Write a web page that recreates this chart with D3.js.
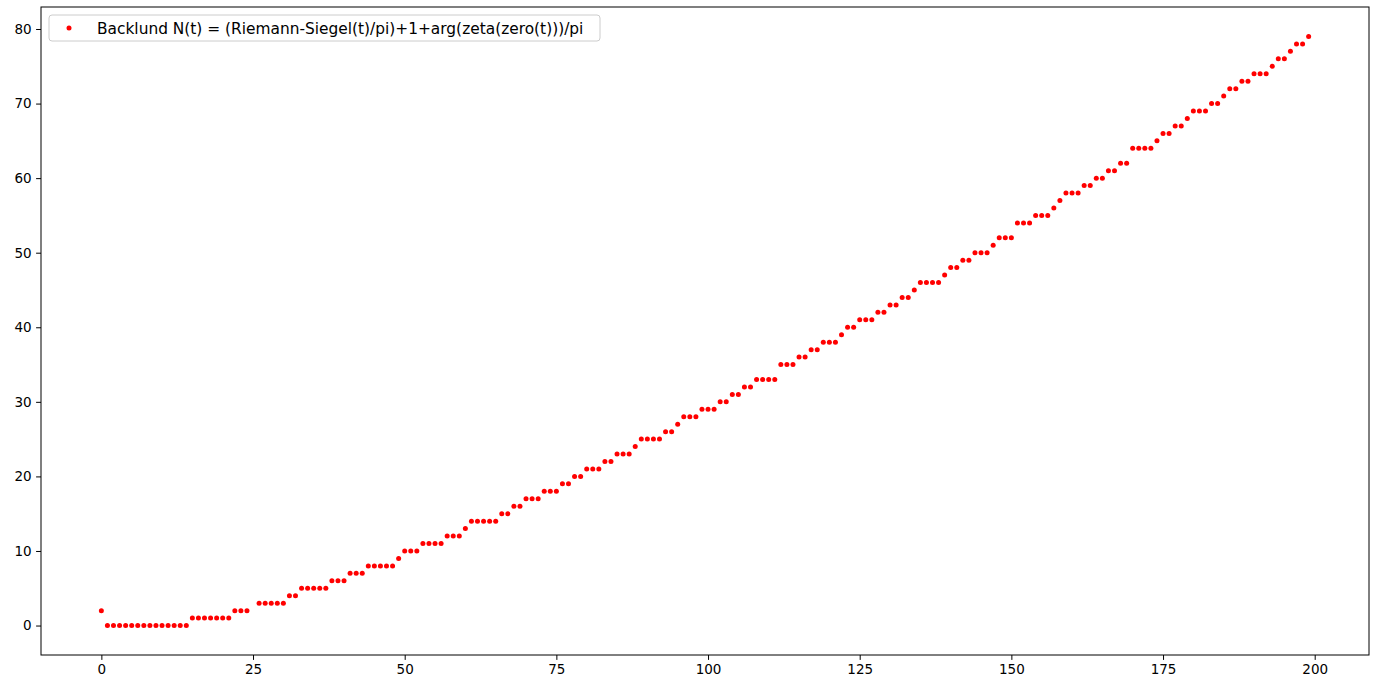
<!DOCTYPE html>
<html>
<head>
<meta charset="utf-8">
<script src="https://cdn.jsdelivr.net/npm/d3@7"></script>
<style>
  html, body { margin: 0; padding: 0; background: #fff; }
  svg { display: block; }
  text { font-family: "DejaVu Sans", sans-serif; fill: #000; }
</style>
</head>
<body>
<svg id="chart" width="1381" height="688"></svg>
<script>
// Backlund zero count N(t), sampled at t = 0, 1, 2, ..., 199
// (null where the evaluation gave no value)
const countValues = [
  2,
  0,0,0,0,0,0,0,0,0,0,0,0,0,0,
  1,1,1,1,1,1,1,
  2,2,2,null,
  3,3,3,3,3,
  4,4,
  5,5,5,5,5,
  6,6,6,
  7,7,7,
  8,8,8,8,8,
  9,
  10,10,10,
  11,11,11,11,
  12,12,12,
  13,
  14,14,14,14,14,
  15,15,
  16,16,
  17,17,17,
  18,18,18,
  19,19,
  20,20,
  21,21,21,
  22,22,
  23,23,23,
  24,
  25,25,25,25,
  26,26,
  27,
  28,28,28,
  29,29,29,
  30,30,
  31,31,
  32,32,
  33,33,33,33,
  35,35,35,
  36,36,
  37,37,
  38,38,38,
  39,
  40,40,
  41,41,41,
  42,42,
  43,43,
  44,44,
  45,
  46,46,46,46,
  47,
  48,48,
  49,49,
  50,50,50,
  51,
  52,52,52,
  54,54,54,
  55,55,55,
  56,
  57,
  58,58,58,
  59,59,
  60,60,
  61,61,
  62,62,
  64,64,64,64,
  65,
  66,66,
  67,67,
  68,
  69,69,69,
  70,70,
  71,
  72,72,
  73,73,
  74,74,74,
  75,
  76,76,
  77,
  78,78,
  79
];

const xTicks = [0, 25, 50, 75, 100, 125, 150, 175, 200];
const yTicks = [0, 10, 20, 30, 40, 50, 60, 70, 80];
const legendLabel = "Backlund N(t) = (Riemann-Siegel(t)/pi)+1+arg(zeta(zero(t)))/pi";

const points = countValues
  .map((n, t) => ({ t, n }))
  .filter(d => d.n !== null);

const svg = d3.select("#chart");
const plot = { left: 41, right: 1369, top: 7, bottom: 655 };

// data limits padded by 5% on each side, like the usual autoscale margins
const tMin = 0, tMax = countValues.length - 1;
const nMin = d3.min(points, d => d.n), nMax = d3.max(points, d => d.n);
const tPad = (tMax - tMin) * 0.05, nPad = (nMax - nMin) * 0.05;

const x = d3.scaleLinear()
  .domain([tMin - tPad, tMax + tPad])
  .range([plot.left, plot.right]);
const y = d3.scaleLinear()
  .domain([nMin - nPad, nMax + nPad])
  .range([plot.bottom, plot.top]);

// scatter points
svg.append("g")
  .selectAll("circle")
  .data(points)
  .join("circle")
  .attr("cx", d => x(d.t))
  .attr("cy", d => y(d.n))
  .attr("r", 2.5)
  .attr("fill", "#ff0000");

// axes
const xAxis = d3.axisBottom(x).tickValues(xTicks).tickSize(4.9).tickPadding(4.5).tickFormat(d3.format("d"));
const yAxis = d3.axisLeft(y).tickValues(yTicks).tickSize(4.9).tickPadding(4.5).tickFormat(d3.format("d"));

const gx = svg.append("g").attr("transform", `translate(0,${plot.bottom})`).call(xAxis);
const gy = svg.append("g").attr("transform", `translate(${plot.left},0)`).call(yAxis);
[gx, gy].forEach(g => {
  g.select(".domain").remove();
  g.selectAll(".tick line").attr("stroke", "#000").attr("stroke-width", 1);
  g.selectAll(".tick text").attr("font-size", 13.5).attr("font-family", "DejaVu Sans, sans-serif").attr("fill", "#000");
});

// frame
svg.append("rect")
  .attr("x", plot.left).attr("y", plot.top)
  .attr("width", plot.right - plot.left).attr("height", plot.bottom - plot.top)
  .attr("fill", "none").attr("stroke", "#000").attr("stroke-width", 1);

// legend
const legend = svg.append("g").attr("transform", "translate(49,15)");
legend.append("rect")
  .attr("width", 551).attr("height", 26).attr("rx", 3)
  .attr("fill", "#fff").attr("fill-opacity", 0.8)
  .attr("stroke", "#cccccc").attr("stroke-width", 1);
legend.append("circle").attr("cx", 20).attr("cy", 13).attr("r", 2.5).attr("fill", "#ff0000");
legend.append("text").attr("x", 48).attr("y", 18.5).attr("font-size", 15.4).text(legendLabel);
</script>
</body>
</html>
